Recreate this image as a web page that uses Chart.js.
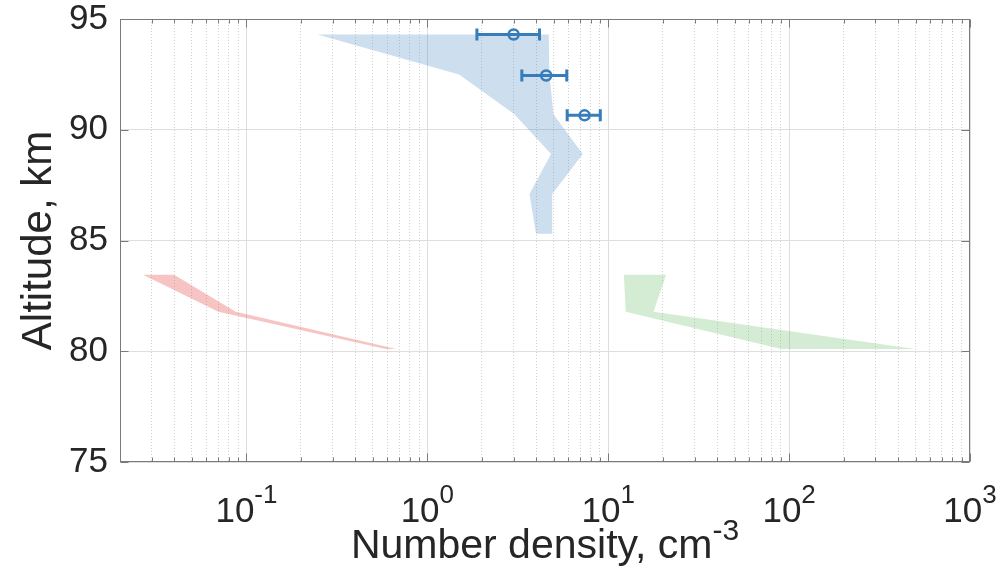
<!DOCTYPE html>
<html>
<head>
<meta charset="utf-8">
<title>Number density profiles</title>
<script src="https://cdn.jsdelivr.net/npm/chart.js@4.4.1/dist/chart.umd.min.js"></script>
<style>
  html, body { margin: 0; padding: 0; background: #fff; }
  #wrap { width: 1007px; height: 571px; }
</style>
</head>
<body>
<div id="wrap"><canvas id="densityChart" width="1007" height="571"></canvas></div>
<script>
// blue band (km / cm^-3), low edge and high edge at each altitude
const blueAlt  = [94.3, 92.5, 90.7, 88.9, 87.1, 85.3];
const blueLow  = [0.247, 1.50, 3.03, 4.83, 3.67, 3.99];
const blueHigh = [4.69, 4.73, 4.98, 7.23, 4.90, 4.90];

// red band
const redAlt  = [83.45, 81.78, 80.1];
const redLow  = [0.0268, 0.070, 0.590];
const redHigh = [0.0398, 0.0873, 0.671];

// green band
const greenAlt  = [83.45, 81.78, 80.1];
const greenLow  = [12.2, 12.5, 90.6];
const greenHigh = [20.9, 17.8, 495];

// measurements with horizontal error bars
const obsAlt  = [94.3, 92.45, 90.65];
const obsVal  = [3.0, 4.54, 7.40];
const obsLow  = [1.88, 3.33, 5.93];
const obsHigh = [4.17, 5.90, 9.04];

// axes
const xMajorTicks = [0.1, 1, 10, 100, 1000];
const xExponents  = ['-1', '0', '1', '2', '3'];
const xMinorTicks = [0.02, 0.03, 0.04, 0.05, 0.06, 0.07, 0.08, 0.09,
                     0.2, 0.3, 0.4, 0.5, 0.6, 0.7, 0.8, 0.9,
                     2, 3, 4, 5, 6, 7, 8, 9,
                     20, 30, 40, 50, 60, 70, 80, 90,
                     200, 300, 400, 500, 600, 700, 800, 900];
const yTicks = [75, 80, 85, 90, 95];

const FONT = "'Liberation Sans', Arial, Helvetica, sans-serif";
const TEXT_COLOR = '#262626';
const AXIS_COLOR = '#7a7a7a';
const OBS_COLOR = '#367dba';

Chart.defaults.font.family = FONT;
Chart.defaults.color = TEXT_COLOR;

// polygon: down the low edge, back up the high edge
const bandPoints = (alt, low, high) => [
    ...low.map((v, i) => ({ x: v, y: alt[i] })),
    ...high.map((v, i) => ({ x: v, y: alt[i] })).reverse()
];

const bandsAndBars = {
    id: 'bandsAndBars',
    beforeDatasetsDraw(chart) {
        const { ctx, chartArea: a } = chart;
        const xs = chart.scales.x, ys = chart.scales.y;
        ctx.save();
        ctx.beginPath();
        ctx.rect(a.left, a.top, a.right - a.left, a.bottom - a.top);
        ctx.clip();

        chart.data.datasets.forEach((ds, i) => {
            if (!ds.band) return;
            const pts = chart.getDatasetMeta(i).data;
            ctx.beginPath();
            pts.forEach((p, j) => j ? ctx.lineTo(p.x, p.y) : ctx.moveTo(p.x, p.y));
            ctx.closePath();
            ctx.fillStyle = ds.backgroundColor;
            ctx.fill();
        });

        // error bars with caps
        ctx.strokeStyle = OBS_COLOR;
        ctx.lineWidth = 3;
        obsAlt.forEach((alt, i) => {
            const y = ys.getPixelForValue(alt);
            const x0 = xs.getPixelForValue(obsLow[i]);
            const x1 = xs.getPixelForValue(obsHigh[i]);
            ctx.beginPath();
            ctx.moveTo(x0, y); ctx.lineTo(x1, y);
            ctx.moveTo(x0, y - 6); ctx.lineTo(x0, y + 6);
            ctx.moveTo(x1, y - 6); ctx.lineTo(x1, y + 6);
            ctx.stroke();
        });
        ctx.restore();
    },
    afterDraw(chart) {
        const { ctx, chartArea: a } = chart;
        const xs = chart.scales.x, ys = chart.scales.y;
        const L = Math.round(a.left) + 0.5, R = Math.round(a.right) - 0.5;
        const T = Math.round(a.top) + 0.5, B = Math.round(a.bottom) - 0.5;
        ctx.save();

        // box and inward ticks on all sides
        ctx.strokeStyle = AXIS_COLOR;
        ctx.lineWidth = 1;
        ctx.strokeRect(L, T, R - L, B - T);
        ctx.beginPath();
        const tickX = (v, len) => {
            const px = Math.round(xs.getPixelForValue(v)) + 0.5;
            ctx.moveTo(px, B); ctx.lineTo(px, B - len);
            ctx.moveTo(px, T); ctx.lineTo(px, T + len);
        };
        xMajorTicks.forEach(v => tickX(v, 8));
        xMinorTicks.forEach(v => tickX(v, 4));
        yTicks.forEach(v => {
            const py = Math.round(ys.getPixelForValue(v)) + 0.5;
            ctx.moveTo(L, py); ctx.lineTo(L + 8, py);
            ctx.moveTo(R, py); ctx.lineTo(R - 8, py);
        });
        ctx.stroke();

        // x tick labels: 10 with a raised exponent
        ctx.fillStyle = TEXT_COLOR;
        ctx.textBaseline = 'alphabetic';
        ctx.textAlign = 'left';
        xMajorTicks.forEach((v, i) => {
            const px = xs.getPixelForValue(v);
            ctx.font = '35px ' + FONT;
            const wb = ctx.measureText('10').width;
            ctx.font = '26px ' + FONT;
            const we = ctx.measureText(xExponents[i]).width;
            const left = px - (wb + we) / 2;
            ctx.font = '35px ' + FONT;
            ctx.fillText('10', left, 522);
            ctx.font = '26px ' + FONT;
            ctx.fillText(xExponents[i], left + wb, 503);
        });

        // x axis title
        const main = 'Number density, cm', sup = '-3';
        ctx.font = '41px ' + FONT;
        const wm = ctx.measureText(main).width;
        ctx.font = '30px ' + FONT;
        const ws = ctx.measureText(sup).width;
        const left = (a.left + a.right) / 2 - (wm + ws) / 2;
        ctx.font = '41px ' + FONT;
        ctx.fillText(main, left, 558);
        ctx.font = '30px ' + FONT;
        ctx.fillText(sup, left + wm, 540);

        ctx.restore();
    }
};

const ctx = document.getElementById('densityChart').getContext('2d');
new Chart(ctx, {
    type: 'scatter',
    data: {
        datasets: [
            {
                label: 'blue band', band: true,
                data: bandPoints(blueAlt, blueLow, blueHigh),
                backgroundColor: 'rgba(54, 125, 186, 0.25)',
                pointRadius: 0, showLine: false
            },
            {
                label: 'red band', band: true,
                data: bandPoints(redAlt, redLow, redHigh),
                backgroundColor: 'rgba(230, 60, 60, 0.3)',
                pointRadius: 0, showLine: false
            },
            {
                label: 'green band', band: true,
                data: bandPoints(greenAlt, greenLow, greenHigh),
                backgroundColor: 'rgba(60, 170, 60, 0.22)',
                pointRadius: 0, showLine: false
            },
            {
                label: 'measured',
                data: obsVal.map((v, i) => ({ x: v, y: obsAlt[i] })),
                pointStyle: 'circle',
                pointRadius: 5,
                pointBorderWidth: 2.5,
                borderColor: OBS_COLOR,
                pointBackgroundColor: 'rgba(0,0,0,0)',
                showLine: false
            }
        ]
    },
    plugins: [bandsAndBars],
    options: {
        responsive: false,
        animation: false,
        devicePixelRatio: 1,
        layout: { padding: { top: 19, right: 37, bottom: 0, left: 0 } },
        plugins: {
            legend: { display: false },
            tooltip: { enabled: false }
        },
        scales: {
            x: {
                type: 'logarithmic',
                position: 'bottom',
                min: 0.02,
                max: 1000,
                afterBuildTicks: s => { s.ticks = xMajorTicks.map(v => ({ value: v, major: true })); },
                afterFit: s => { s.height = 109; s.paddingLeft = 0; s.paddingRight = 0; },
                ticks: { display: false, autoSkip: false },
                grid: { color: '#dedede', lineWidth: 1, drawTicks: false },
                border: { display: false },
                title: { display: false }
            },
            xm: {
                type: 'logarithmic',
                position: 'bottom',
                min: 0.02,
                max: 1000,
                afterBuildTicks: s => { s.ticks = xMinorTicks.map(v => ({ value: v })); },
                afterFit: s => { s.height = 0; s.paddingLeft = 0; s.paddingRight = 0; },
                ticks: { display: false, autoSkip: false },
                grid: { color: '#d2d2d2', lineWidth: 1, drawTicks: false },
                border: { display: false, dash: [1, 2] }
            },
            y: {
                type: 'linear',
                min: 75,
                max: 95,
                afterBuildTicks: s => { s.ticks = yTicks.map(v => ({ value: v })); },
                afterFit: s => { s.width = 120; s.paddingTop = 0; s.paddingBottom = 0; },
                ticks: { font: { size: 35 }, color: TEXT_COLOR, padding: 12 },
                grid: { color: '#dedede', lineWidth: 1, drawTicks: false },
                border: { display: false },
                title: {
                    display: true,
                    text: 'Altitude, km',
                    color: TEXT_COLOR,
                    font: { size: 42, lineHeight: 1 },
                    padding: { top: 18, bottom: 0 }
                }
            }
        }
    }
});
</script>
</body>
</html>
